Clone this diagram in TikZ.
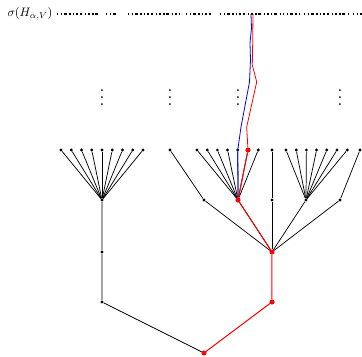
\documentclass[tikz,border=0pt]{standalone}
\usepackage{amsmath,amssymb}
\usetikzlibrary{positioning, calc}

\tikzset{
  vtx/.style={circle, fill=black, inner sep=0pt, minimum size=2.4pt},
  hit/.style={circle, fill=red, inner sep=0pt, minimum size=3.6pt},
  edge/.style={line width=0.55pt},
  redge/.style={red, line width=0.75pt},
  specline/.style={line width=0.9pt, dash pattern=on 1pt off 1.8pt on 1pt off 1.3pt on 2.2pt off 2pt on 1pt off 1.5pt},
}

\begin{document}
\begin{tikzpicture}[x=0.75pt, y=-0.75pt]
  \useasboundingbox (0,0) rectangle (362,357);

  % spectrum
  \node[scale=0.92] (lab) at (30,14) {$\sigma(H_{\alpha,V})$};
  \foreach \s/\e in {57/100, 106/118, 128/182, 186/213, 220/300, 304/348, 353/362}
    \draw[specline] (\s,14) -- (\e,14);
  \coordinate (tb) at (251,14);
  \coordinate (tr) at (253,14);

  % tree vertices
  \node[hit] (r) at (204,353) {};
  \node[vtx] (a1) at (102,302) {};
  \node[hit] (b1) at (272,302) {};
  \node[vtx] (a2) at (102,252) {};
  \node[hit] (b2) at (272,252) {};
  \node[vtx] (a3) at (102,200) {};
  \foreach \i/\x in {1/204, 3/272, 4/306, 5/340}
    \node[vtx] (c\i) at (\x,200) {};
  \node[hit] (c2) at (238,200) {};

  % leaves
  \foreach \k in {0,...,8}
    \node[vtx] (p\k) at (61+10.25*\k,150) {};
  \foreach \k in {0,...,6} {
    \node[vtx] (q\k) at (197+10.2*\k,150) {};
    \node[vtx] (s\k) at (286+10.2*\k,150) {};
  }
  \node[hit] (q5) at (248,150) {};
  \node[vtx] (d1) at (170,150) {};
  \node[vtx] (d3) at (272,150) {};
  \node[vtx] (d5) at (360,150) {};

  % edges
  \draw[edge] (r) -- (a1) -- (a2) -- (a3);
  \foreach \k in {0,...,8}
    \draw[edge] (a3) -- (p\k);
  \foreach \i in {1,...,5}
    \draw[edge] (b2) -- (c\i);
  \foreach \k in {0,...,6} {
    \draw[edge] (c2) -- (q\k);
    \draw[edge] (c4) -- (s\k);
  }
  \draw[edge] (c1) -- (d1);
  \draw[edge] (c3) -- (d3);
  \draw[edge] (c5) -- (d5);

  % dots
  \foreach \x in {102,170,238,340}
    \node[scale=1.3] at (\x,92) {$\vdots$};

  % marked path
  \draw[blue, line width=0.6pt] (c2) -- (q4.center) -- (241,127) -- (249.5,82) -- (250.5,60) -- (250,43) -- (251.5,28) -- (tb);
  \draw[redge] (r) -- (b1) -- (b2) -- (c2) -- (q5);
  \draw[red, line width=0.6pt] (q5) -- (246.7,127) -- (256.7,82) -- (252.3,65) -- (252.7,43) -- (tr);
  \node[hit] at (r) {};
  \node[hit] at (b1) {};
  \node[hit] at (b2) {};
  \node[hit] at (c2) {};
  \node[hit] at (q5) {};
\end{tikzpicture}
\end{document}
